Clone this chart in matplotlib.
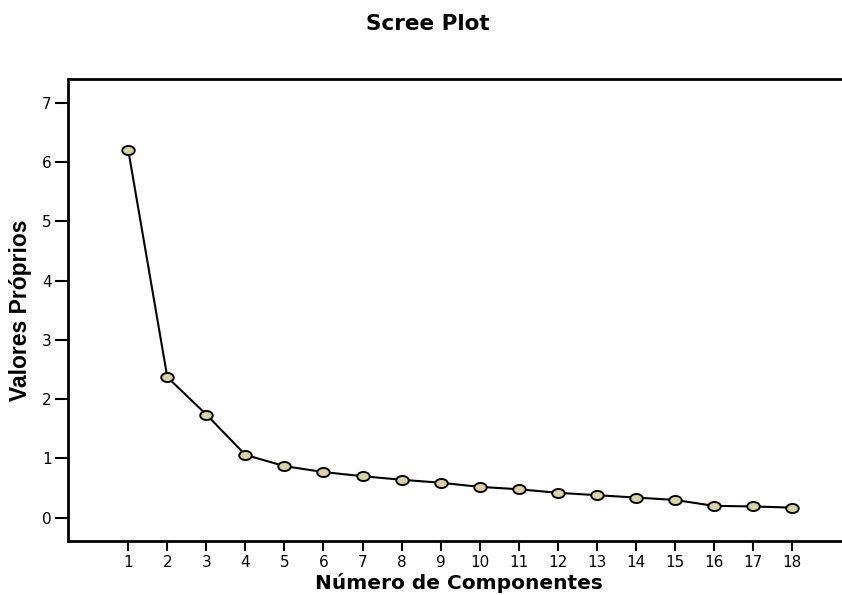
import matplotlib.pyplot as plt
from matplotlib.path import Path
import numpy as np

components = list(range(1, 19))
eigenvalues = [6.20, 2.37, 1.74, 1.06, 0.87, 0.77, 0.70, 0.64, 0.59,
               0.52, 0.48, 0.42, 0.38, 0.34, 0.30, 0.20, 0.19, 0.17]
y_ticks = list(range(0, 8))

plt.rcParams['font.family'] = ['DejaVu Sans']

# flattened circle marker, like the SPSS output
t = np.linspace(0, 2 * np.pi, 60)
ellipse = Path(np.column_stack([np.cos(t), 0.72 * np.sin(t)]), closed=True)

fig = plt.figure(figsize=(8.42, 5.95), dpi=100)
ax = fig.add_axes([68.3 / 842, 1 - 541 / 595, (842 - 68.3) / 842, (541 - 79) / 595])

ax.plot(components, eigenvalues, color='black', lw=1.5,
        marker=ellipse, markersize=9, markerfacecolor='#d8d3a0',
        markeredgecolor='black', markeredgewidth=1.4, zorder=3)

ax.set_xlim(-0.536, 19.28)
ax.set_ylim(-0.393, 7.40)
ax.set_xticks(components)
ax.set_yticks(y_ticks)
ax.tick_params(axis='both', direction='out', width=1.5, labelsize=11)
ax.tick_params(axis='y', length=9.5, pad=2.5)
ax.tick_params(axis='x', length=7.5, pad=2.5)
for side in ['left', 'top', 'bottom']:
    ax.spines[side].set_linewidth(2)
ax.spines['right'].set_visible(False)

fig.text(459 / 842, 1 - 589 / 595, 'Número de Componentes', ha='center',
         va='baseline', fontsize=14.5, fontweight='bold')
fig.text(21 / 842, 1 - 310 / 595, 'Valores Próprios', rotation=90,
         ha='center', va='center', fontsize=16.5, fontweight='bold',
         family=['Liberation Sans', 'DejaVu Sans'])
fig.text(428 / 842, 1 - 30 / 595, 'Scree Plot', ha='center', va='baseline',
         fontsize=15.5, fontweight='bold')

fig.savefig('out.png', dpi=100)
